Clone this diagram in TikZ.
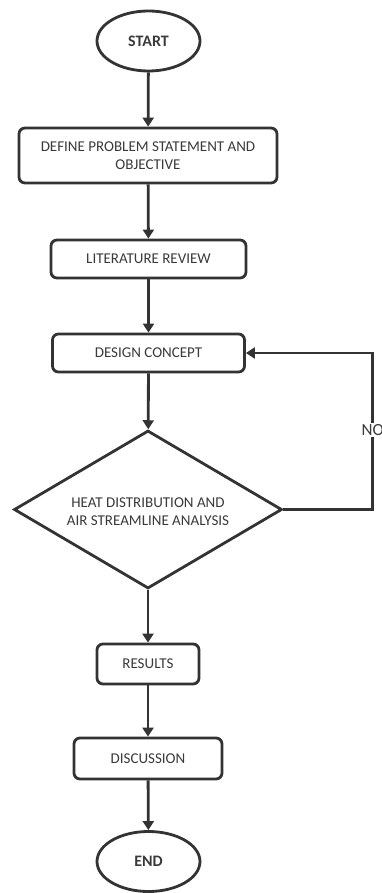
\documentclass[tikz,border=0pt]{standalone}
\usepackage{fontspec}
\setmainfont{Carlito}
\usetikzlibrary{shapes.geometric,arrows.meta}
\definecolor{ln}{HTML}{333333}
\definecolor{tx}{HTML}{3A3A3A}
\begin{document}
\begin{tikzpicture}[x=1pt,y=1pt,
  every node/.style={text=tx, font=\fontsize{15}{18}\selectfont, align=center},
  term/.style={draw=ln, line width=2.8pt, ellipse, inner sep=0pt, minimum width=103pt, minimum height=60pt, font=\fontsize{16}{19}\selectfont\bfseries},
  proc/.style={draw=ln, line width=2.8pt, rounded corners=6pt, inner sep=0pt},
  dec/.style={draw=ln, line width=2.8pt, diamond, inner sep=0pt, minimum width=268pt, minimum height=158pt},
  arr/.style={draw=ln, line width=2.8pt, -{Triangle[length=9pt,width=11pt]}},
  lbl/.style={fill=white, inner sep=1pt, font=\fontsize{17}{19}\selectfont}
]
\useasboundingbox (0,0) rectangle (382,-893);
\node[term] (start) at (148.5,-41) {START};
\node[proc, minimum width=258pt, minimum height=55pt] (define) at (148,-155.5) {DEFINE PROBLEM STATEMENT AND\\OBJECTIVE};
\node[proc, minimum width=195pt, minimum height=38pt] (lit) at (148.5,-259) {LITERATURE REVIEW};
\node[proc, minimum width=192pt, minimum height=38pt] (design) at (148.5,-353) {DESIGN CONCEPT};
\node[dec] (decide) at (148,-509.5) {};
\node (dectext) at (148,-512) {HEAT DISTRIBUTION AND\\AIR STREAMLINE ANALYSIS};
\node[proc, minimum width=102pt, minimum height=40pt] (res) at (148,-664) {RESULTS};
\node[proc, minimum width=148pt, minimum height=41pt] (disc) at (148,-758.5) {DISCUSSION};
\node[term] (stop) at (148.5,-861.5) {END};
\coordinate (corner) at (372.5,-509.5);
\draw[arr] (start) -- (define);
\draw[arr] (define) -- (lit);
\draw[arr] (lit) -- (design);
\draw[arr] (design) -- (decide);
\draw[arr] (decide) -- (res);
\draw[arr] (res) -- (disc);
\draw[arr] (disc) -- (stop);
\draw[arr] (decide.east) -- (corner) |- (design.east);
\node[lbl, anchor=west] (no) at (360.5,-430) {NO};
\end{tikzpicture}
\end{document}
